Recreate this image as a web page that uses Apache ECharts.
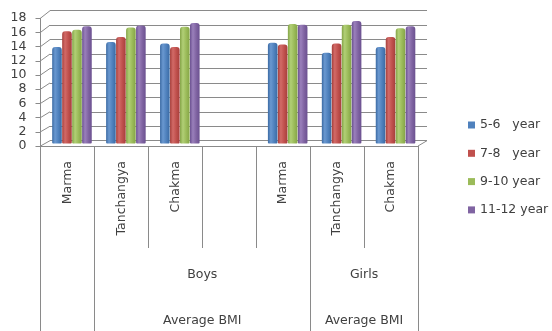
<!DOCTYPE html>
<html><head><meta charset="utf-8">
<script src="https://cdn.jsdelivr.net/npm/echarts@6/dist/echarts.min.js"></script>
<style>html,body{margin:0;padding:0;background:#fff}#c{width:552px;height:331px}</style>
</head><body><div id="c"></div>
<script>
// ---- data ----
var categories = ['Marma', 'Tanchangya', 'Chakma', '', 'Marma', 'Tanchangya', 'Chakma'];
var seriesNames = ['5-6   year', '7-8   year', '9-10 year', '11-12 year'];
var s56   = [13.4, 14.1, 13.9, null, 14.0, 12.6, 13.4];
var s78   = [15.6, 14.8, 13.4, null, 13.75, 13.9, 14.8];
var s910  = [15.8, 16.1, 16.2, null, 16.6, 16.5, 16.0];
var s1112 = [16.3, 16.4, 16.75, null, 16.5, 17.0, 16.3];
var yTicks = [0, 2, 4, 6, 8, 10, 12, 14, 16, 18];
// multi-level category groups (span in category index units)
var level2Labels = ['Boys', 'Girls'];
var level3Labels = ['Average BMI', 'Average BMI'];
var groupStart = [1, 5];
var groupEnd = [5, 7];

var baseColors = ['#4F81BD', '#C0504D', '#9BBB59', '#8064A2'];
var darkColors = ['#3b6aa3', '#a63f3c', '#84a447', '#6b5190'];
var lightColors = ['#6a98d0', '#d26a67', '#b1cf76', '#9a80bb'];
var FONT = 'DejaVu Sans';
var FS = 12.5;
var TXT = '#404040';
var LINE = '#8a8a8a';

function cyl(i) {
  return new echarts.graphic.LinearGradient(0, 0, 1, 0, [
    {offset: 0, color: darkColors[i]},
    {offset: 0.3, color: lightColors[i]},
    {offset: 0.65, color: baseColors[i]},
    {offset: 1, color: darkColors[i]}
  ]);
}

var chart = echarts.init(document.getElementById('c'), null, {renderer: 'canvas'});
var yMin = yTicks[0], yMax = yTicks[yTicks.length - 1], yStep = yTicks[1] - yTicks[0];

function groupLabelFormatter(labels) {
  return function (v) {
    for (var i = 0; i < labels.length; i++) {
      if (Math.abs(v - (groupStart[i] + groupEnd[i]) / 2) < 1e-6) return labels[i];
    }
    return '';
  };
}
function fullTick(idx) {
  return idx === 0 || groupStart.indexOf(idx) >= 0;
}

var allData = [s56, s78, s910, s1112];
var option = {
  animation: false,
  grid: [
    {left: 40.5, right: 134, top: 18.2, bottom: 185},     // front frame / labels
    {left: 50, right: 125, top: 10.7, bottom: 190.3},     // back wall
    {left: 45, right: 129.5, top: 13.9, bottom: 187.5}    // bars
  ],
  legend: {
    orient: 'vertical', left: 468, top: 118, padding: 0,
    itemWidth: 7, itemHeight: 7, itemGap: 14.3, icon: 'rect',
    textStyle: {fontFamily: FONT, fontSize: FS, color: TXT, lineHeight: 14},
    data: seriesNames.map(function (n, i) { return {name: n, itemStyle: {color: baseColors[i]}}; })
  },
  xAxis: [
    {gridIndex: 0, type: 'category', data: categories, position: 'bottom',
     axisLine: {show: true, lineStyle: {color: LINE}},
     axisTick: {show: true, interval: 0, length: 102, lineStyle: {color: LINE}},
     axisLabel: {interval: 0, rotate: 90, margin: 15, fontFamily: FONT, fontSize: FS, color: TXT},
     splitLine: {show: false}},
    {gridIndex: 0, type: 'category', data: categories, position: 'bottom',
     axisLine: {show: false},
     axisTick: {show: true, interval: function (idx) { return fullTick(idx); }, length: 186, lineStyle: {color: LINE}},
     axisLabel: {show: false}, splitLine: {show: false}},
    {gridIndex: 0, type: 'value', min: 0, max: categories.length, interval: 0.5, position: 'bottom', offset: 114,
     axisLine: {show: false}, axisTick: {show: false}, splitLine: {show: false},
     axisLabel: {margin: 8, formatter: groupLabelFormatter(level2Labels), fontFamily: FONT, fontSize: FS, color: TXT}},
    {gridIndex: 0, type: 'value', min: 0, max: categories.length, interval: 0.5, position: 'bottom', offset: 160,
     axisLine: {show: false}, axisTick: {show: false}, splitLine: {show: false},
     axisLabel: {margin: 8, formatter: groupLabelFormatter(level3Labels), fontFamily: FONT, fontSize: FS, color: TXT}},
    {gridIndex: 1, type: 'category', data: categories, show: false},
    {gridIndex: 2, type: 'category', data: categories, show: false}
  ],
  yAxis: [
    {gridIndex: 0, type: 'value', min: yMin, max: yMax, interval: yStep,
     axisLine: {show: true, lineStyle: {color: LINE}},
     axisTick: {show: true, length: 5, lineStyle: {color: LINE}},
     axisLabel: {margin: 14, fontFamily: FONT, fontSize: FS, color: TXT},
     splitLine: {show: false}},
    {gridIndex: 1, type: 'value', min: yMin, max: yMax, interval: yStep,
     axisLine: {show: false}, axisTick: {show: false}, axisLabel: {show: false},
     splitLine: {show: true, lineStyle: {color: LINE, width: 1}}},
    {gridIndex: 2, type: 'value', min: yMin, max: yMax, show: false, splitLine: {show: false}}
  ],
  series: allData.map(function (d, i) {
    return {
      name: seriesNames[i], type: 'bar', xAxisIndex: 5, yAxisIndex: 2,
      data: d, barWidth: 9.6, barGap: '4%',
      itemStyle: {color: cyl(i), borderRadius: [3, 3, 1, 1]}
    };
  })
};
chart.setOption(option);

// decorative 3D frame edges (side wall / floor diagonals), positioned via the axes
var g = [];
var frontX = chart.convertToPixel({xAxisIndex: 2}, 0);
var frontXR = chart.convertToPixel({xAxisIndex: 2}, categories.length);
var wallXL = 50, wallXR = 427;
yTicks.forEach(function (v) {
  var yf = chart.convertToPixel({yAxisIndex: 0}, v);
  var yb = chart.convertToPixel({yAxisIndex: 1}, v);
  g.push({type: 'line', shape: {x1: frontX, y1: yf, x2: wallXL, y2: yb},
          style: {stroke: LINE, lineWidth: 1}, silent: true});
});
var y0f = chart.convertToPixel({yAxisIndex: 0}, 0);
var y0b = chart.convertToPixel({yAxisIndex: 1}, 0);
g.push({type: 'line', shape: {x1: frontXR, y1: y0f, x2: wallXR, y2: y0b},
        style: {stroke: LINE, lineWidth: 1}, silent: true});
chart.setOption({graphic: g});
</script></body></html>
